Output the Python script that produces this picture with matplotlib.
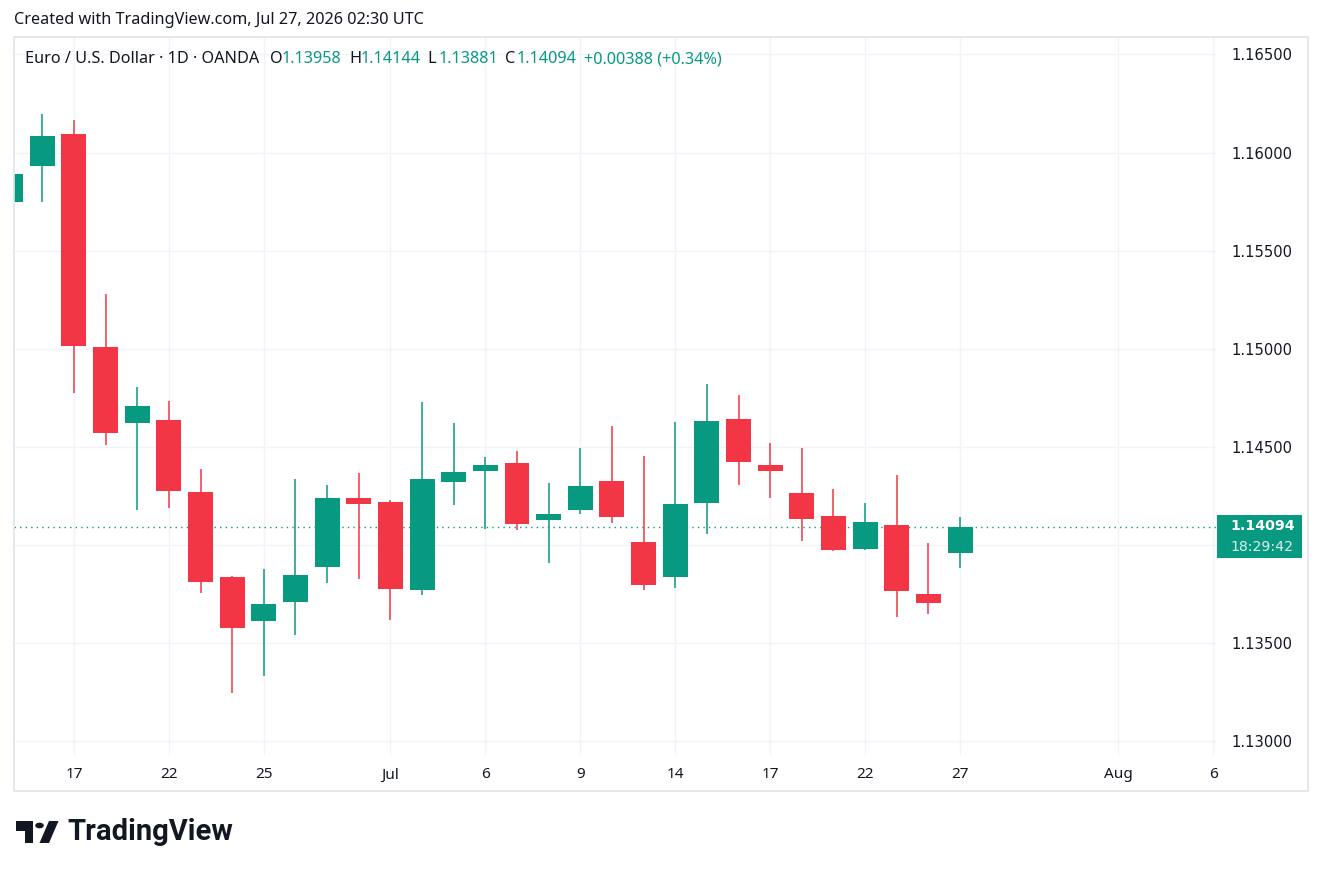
import matplotlib
matplotlib.use('Agg')
import matplotlib.pyplot as plt, numpy as np, pandas as pd
from matplotlib.patches import Rectangle, Polygon, Circle

plt.rcParams['font.family'] = ['Noto Sans', 'DejaVu Sans']

# daily EUR/USD bars (OANDA)
dates = pd.bdate_range('2026-06-15', '2026-07-27')
opens = [1.15750, 1.15933, 1.16095, 1.15009, 1.14623, 1.14637, 1.14270, 1.13837, 1.13614, 1.13711,
         1.13889, 1.14240, 1.14219, 1.13771, 1.14321, 1.14377, 1.14418, 1.14127, 1.14178, 1.14326,
         1.14015, 1.13838, 1.14216, 1.14642, 1.14408, 1.14265, 1.14148, 1.13981, 1.14102, 1.13750,
         1.13958]
highs = [1.16000, 1.16197, 1.16166, 1.15281, 1.14805, 1.14734, 1.14387, 1.13842, 1.13878, 1.14336,
         1.14306, 1.14367, 1.14229, 1.14729, 1.14622, 1.14449, 1.14479, 1.14316, 1.14494, 1.14607,
         1.14454, 1.14627, 1.14821, 1.14765, 1.14520, 1.14494, 1.14285, 1.14214, 1.14357, 1.14010,
         1.14144]
lows = [1.15650, 1.15750, 1.14776, 1.14511, 1.14180, 1.14190, 1.13757, 1.13247, 1.13334, 1.13543,
        1.13808, 1.13827, 1.13619, 1.13745, 1.14204, 1.14083, 1.14078, 1.13910, 1.14158, 1.14114,
        1.13772, 1.13782, 1.14058, 1.14307, 1.14241, 1.14022, 1.13969, 1.13975, 1.13635, 1.13650,
        1.13881]
closes = [1.15891, 1.16085, 1.15016, 1.14572, 1.14708, 1.14277, 1.13813, 1.13579, 1.13699, 1.13847,
          1.14240, 1.14210, 1.13776, 1.14336, 1.14372, 1.14408, 1.14107, 1.14158, 1.14301, 1.14144,
          1.13798, 1.14209, 1.14632, 1.14425, 1.14379, 1.14134, 1.13976, 1.14117, 1.13767, 1.13706,
          1.14094]

tick_dates = ['2026-06-17', '2026-06-22', '2026-06-25', '2026-07-01', '2026-07-06', '2026-07-09',
              '2026-07-14', '2026-07-17', '2026-07-22', '2026-07-27', '2026-08-03', '2026-08-06']
tick_labels = ['17', '22', '25', 'Jul', '6', '9', '14', '17', '22', '27', 'Aug', '6']
price_ticks = [1.130, 1.135, 1.140, 1.145, 1.150, 1.155, 1.160, 1.165]
last_price = 1.14094
countdown = '18:29:42'

UP, DOWN = '#089981', '#F23645'
GRID = '#f0f3fa'
TXT = '#131722'

W, H = 1322, 874
fig = plt.figure(figsize=(W / 100, H / 100), dpi=100)
fig.patch.set_facecolor('white')


def fx(x):
    return x / W


def fy(y):
    return 1 - y / H


# outer frame of the chart widget
fig.add_artist(Rectangle((fx(14), fy(791)), fx(1308) - fx(14), fy(37) - fy(791),
                         transform=fig.transFigure, fill=False, edgecolor='#e0e3eb', lw=1.2))

ax = fig.add_axes([fx(14), fy(755), fx(1216) - fx(14), fy(37) - fy(755)])
ax.set_facecolor('white')

x = np.arange(len(dates))
o, h, l, c = map(np.array, (opens, highs, lows, closes))
cols = np.where(c >= o, UP, DOWN)

ax.vlines(x, l, h, colors=cols, lw=1.1, zorder=3)
ax.bar(x, np.abs(c - o), bottom=np.minimum(o, c), width=0.79, color=cols, zorder=4, linewidth=0)

# positions for dates on a business-day axis (includes future days)
full = pd.bdate_range('2026-06-15', '2026-08-31')
tick_pos = [full.get_loc(pd.Timestamp(d)) for d in tick_dates]

ax.set_xlim(0.104, 38.09)
ax.set_ylim(1.12930, 1.16589)

ax.set_xticks(tick_pos)
ax.set_xticklabels(tick_labels)
ax.set_yticks(price_ticks)
ax.set_yticklabels([f'{p:.5f}' for p in price_ticks])
ax.yaxis.tick_right()
ax.tick_params(axis='x', length=0, colors=TXT, labelsize=11, pad=9)
ax.tick_params(axis='y', length=0, colors=TXT, labelsize=10.6, pad=11)
for t in ax.get_yticklabels():
    t.set_horizontalalignment('left')
    t.set_family('DejaVu Sans')
ax.grid(True, color=GRID, lw=1, zorder=0)
for s in ax.spines.values():
    s.set_visible(False)

# last price line
ax.axhline(last_price, color=UP, lw=1, ls=(0, (1, 3)), zorder=2)

# last price label on the price scale
fig.add_artist(Rectangle((fx(1217), fy(558)), fx(1302) - fx(1217), fy(515) - fy(558),
                         transform=fig.transFigure, color=UP, lw=0))
fig.text(fx(1230), fy(526), f'{last_price:.5f}', color='white', fontsize=10.2,
         fontweight='bold', family='DejaVu Sans', va='center', ha='left')
fig.text(fx(1230), fy(547), countdown, color='#d9f0eb', fontsize=10.2,
         family='DejaVu Sans', va='center', ha='left')

# header
fig.text(fx(14), fy(20), 'Created with TradingView.com, Jul 27, 2026 02:30 UTC',
         fontsize=11.7, color=TXT, va='center', ha='left')
fig.text(fx(25), fy(59), 'Euro / U.S. Dollar · 1D · OANDA', fontsize=11.7, color=TXT,
         va='center', ha='left')
ohlc = [('O', opens[-1], 270), ('H', highs[-1], 349), ('L', lows[-1], 427), ('C', closes[-1], 505)]
for lab, val, xp in ohlc:
    fig.text(fx(xp), fy(59), lab, fontsize=11.7, color=TXT, va='center', ha='left')
    fig.text(fx(xp + 11.5), fy(59), f'{val:.5f}', fontsize=11.7, color=UP, va='center', ha='left')
chg = closes[-1] - closes[-2]
fig.text(fx(584), fy(59), f'+{chg:.5f} (+{chg / closes[-2] * 100:.2f}%)', fontsize=11.7,
         color=UP, va='center', ha='left')

# TradingView logo
fig.add_artist(Polygon([(fx(16), fy(821)), (fx(33), fy(821)), (fx(33), fy(843)), (fx(25), fy(843)),
                        (fx(25), fy(831)), (fx(16), fy(831))], closed=True,
                       transform=fig.transFigure, color='#131722', lw=0))
fig.add_artist(Circle((fx(39.5), fy(825.5)), 4.3 / W, transform=fig.transFigure, color='#131722', lw=0))
fig.add_artist(Polygon([(fx(49), fy(821)), (fx(58.5), fy(821)), (fx(49), fy(843)), (fx(39.5), fy(843))],
                       closed=True, transform=fig.transFigure, color='#131722', lw=0))
fig.text(fx(67), fy(832), 'TradingView', fontsize=21, fontweight='bold', family='Roboto',
         color='#131722', va='center', ha='left')

fig.savefig('out.png', dpi=100)
